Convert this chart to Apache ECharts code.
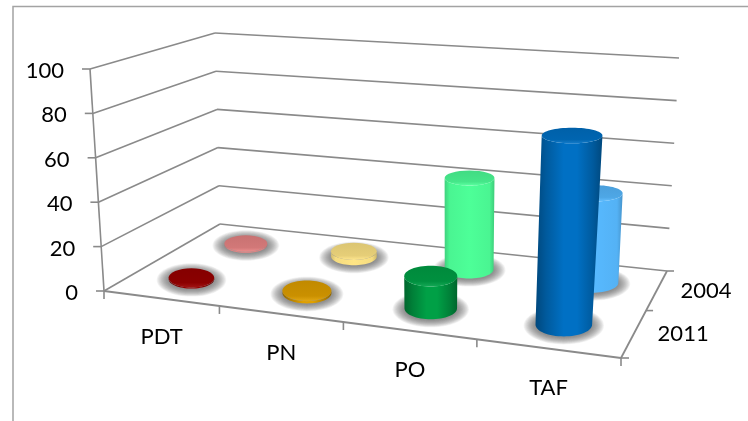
<!DOCTYPE html>
<html><head><meta charset="utf-8">
<style>html,body{margin:0;padding:0;background:#fff}#c{width:748px;height:421px}</style>
<script src="https://cdn.jsdelivr.net/npm/echarts@6/dist/echarts.min.js"></script>
</head><body><div id="c"></div>
<script>
const categories = ['PDT', 'PN', 'PO', 'TAF'];
const years = ['2011', '2004'];
const valueTicks = [0, 20, 40, 60, 80, 100];
const values2011 = [0.5, 1, 14, 80];
const values2004 = [0.5, 2.5, 43, 41];
const colors2011 = ['#9a0000', '#e0a000', '#00a046', '#0070c4'];
const colors2004 = ['#e98585', '#ffe585', '#4dff98', '#57b9ff'];

// projection box: screen corners of the floor and ceiling of the 3D box
const floorQ = [[104, 291], [621, 358], [667, 271], [220, 224]];
const ceilQ = [[90, 69], [640, 108], [679, 58], [215, 33]];
function homography(q) {
  const [x0, y0] = q[0], [x1, y1] = q[1], [x2, y2] = q[2], [x3, y3] = q[3];
  const dx1 = x1 - x2, dx2 = x3 - x2, sx = x0 - x1 + x2 - x3;
  const dy1 = y1 - y2, dy2 = y3 - y2, sy = y0 - y1 + y2 - y3;
  const den = dx1 * dy2 - dx2 * dy1;
  const g = (sx * dy2 - dx2 * sy) / den, h = (dx1 * sy - sx * dy1) / den;
  const a = x1 - x0 + g * x1, b = x3 - x0 + h * x3, d = y1 - y0 + g * y1, e = y3 - y0 + h * y3;
  return (u, v) => {
    const k = g * u + h * v + 1;
    return [(a * u + b * v + x0) / k, (d * u + e * v + y0) / k];
  };
}
const hFloor = homography(floorQ), hCeil = homography(ceilQ);
// u: along categories, v: depth, w: value; all 0..1
function proj(u, v, w) {
  const a = hFloor(u, v), b = hCeil(u, v);
  return [a[0] + (b[0] - a[0]) * w, a[1] + (b[1] - a[1]) * w];
}

const LINE = '#8a8a8a';
const FONT = '22px Lato';
function shade(hex, f) {
  const n = parseInt(hex.slice(1), 16);
  const c = [n >> 16, (n >> 8) & 255, n & 255].map(x => Math.round(f < 0 ? x * (1 + f) : x + (255 - x) * f));
  return 'rgb(' + c.join(',') + ')';
}
function normaliser(params, api) {
  const cs = params.coordSys;
  return {
    u: px => (px - cs.x) / cs.width,
    w: py => (cs.y + cs.height - py) / cs.height,
    band: api.size([1, 0])[0] / cs.width
  };
}
function seg(a, b, width) {
  return { type: 'line', shape: { x1: a[0], y1: a[1], x2: b[0], y2: b[1] }, style: { stroke: LINE, lineWidth: width || 1.6 } };
}
function label(text, x, y, align) {
  return { type: 'text', style: { text, x, y, align: align || 'center', verticalAlign: 'middle', fill: '#000', font: FONT } };
}

function renderBox(params, api) {
  const n = normaliser(params, api), kids = [];
  valueTicks.forEach(t => {
    const w = n.w(api.coord([0, t])[1]);
    const a = proj(0, 0, w), b = proj(0, 1, w), c = proj(1, 1, w);
    kids.push(seg(a, b), seg(b, c), seg(a, [a[0] - 8, a[1]]));
    kids.push(label(String(t), a[0] - 26, a[1] + 2, 'right'));
  });
  kids.push(seg(proj(0, 0, 0), proj(0, 0, 1)));
  kids.push(seg(proj(0, 0, 0), proj(1, 0, 0), 1.8), seg(proj(1, 0, 0), proj(1, 1, 0), 1.8));
  categories.forEach((c, i) => {
    const mid = n.u(api.coord([i, 0])[0]);
    const edge = mid + n.band / 2, p = proj(edge, 0, 0), m = proj(mid, 0, 0);
    kids.push(seg(p, [p[0], p[1] + 8]));
    kids.push(label(c, m[0] + 1, m[1] + 39));
  });
  const p0 = proj(0, 0, 0);
  kids.push(seg(p0, [p0[0], p0[1] + 8]));
  years.forEach((y, i) => {
    const mid = proj(1, (i + 0.5) / years.length, 0), edge = proj(1, (i + 1) / years.length, 0);
    kids.push(seg(edge, [edge[0] + 7, edge[1]]));
    kids.push(label(y, mid[0] + 49, mid[1] + 1));
  });
  const e0 = proj(1, 0, 0);
  kids.push(seg(e0, [e0[0] + 8, e0[1]]));
  return { type: 'group', children: kids };
}

function ellipseAt(u, v, w, du, dv) {
  const c = proj(u, v, w);
  const l = proj(u - du, v, w), r = proj(u + du, v, w);
  const f = proj(u, v - dv, w), b = proj(u, v + dv, w);
  return { cx: c[0], cy: c[1], rx: Math.abs(r[0] - l[0]) / 2, ry: Math.abs(f[1] - b[1]) / 2 };
}
function cylinder(depthIdx, palette) {
  return function (params, api) {
    const n = normaliser(params, api);
    const i = api.value(0), val = api.value(1);
    const pt = api.coord([i, val]);
    const u = n.u(pt[0]), w = n.w(pt[1]);
    const v = (depthIdx + 0.5) / years.length;
    const du = n.band * 0.205, dv = 0.13;
    const bot = ellipseAt(u, v, 0, du, dv), top = ellipseAt(u, v, w, du, dv);
    const col = palette[i];
    const pts = [];
    for (let k = 0; k <= 32; k++) {
      const t = Math.PI * k / 32;
      pts.push([bot.cx + bot.rx * Math.cos(t), bot.cy + bot.ry * Math.sin(t)]);
    }
    for (let k = 0; k <= 32; k++) {
      pts.push([top.cx - top.rx * Math.cos(Math.PI * k / 32), top.cy + top.ry * Math.sin(Math.PI * k / 32)]);
    }
    const soft = depthIdx === 1;
    const grad = {
      type: 'linear', x: 0, y: 0, x2: 1, y2: 0,
      colorStops: soft ? [
        { offset: 0, color: shade(col, -0.18) }, { offset: 0.1, color: shade(col, -0.04) },
        { offset: 0.5, color: col }, { offset: 0.9, color: shade(col, -0.04) },
        { offset: 1, color: shade(col, -0.2) }
      ] : [
        { offset: 0, color: shade(col, -0.36) }, { offset: 0.16, color: shade(col, -0.2) },
        { offset: 0.42, color: col }, { offset: 0.62, color: col },
        { offset: 0.86, color: shade(col, -0.2) }, { offset: 1, color: shade(col, -0.36) }
      ]
    };
    const topGrad = {
      type: 'linear', x: 0, y: 0, x2: 0, y2: 1,
      colorStops: [
        { offset: 0, color: shade(col, -0.14) }, { offset: 0.75, color: shade(col, -0.1) },
        { offset: 1, color: shade(col, 0.08) }
      ]
    };
    const halo = [];
    for (let s = 14; s >= 0; s--) {
      halo.push({ type: 'ellipse', shape: { cx: bot.cx, cy: bot.cy + 1, rx: bot.rx + s * 0.85, ry: bot.ry + s * 0.5 },
        style: { fill: 'rgba(90,90,90,0.065)' } });
    }
    return {
      type: 'group',
      children: halo.concat([
        { type: 'polygon', shape: { points: pts }, style: { fill: grad } },
        { type: 'ellipse', shape: { cx: top.cx, cy: top.cy, rx: top.rx, ry: top.ry }, style: { fill: topGrad } }
      ])
    };
  };
}

const chart = echarts.init(document.getElementById('c'), null, { renderer: 'canvas' });
chart.setOption({
  animation: false,
  backgroundColor: '#fff',
  graphic: [{ type: 'polyline', silent: true, z: 0, shape: { points: [[13, 421], [13, 6.5], [748, 6.5]] }, style: { stroke: '#a3a3a3', lineWidth: 1.5, fill: null } }],
  grid: { show: false, left: 13, top: 6, right: 0, bottom: 0 },
  xAxis: { type: 'category', data: categories, show: false },
  yAxis: { type: 'value', min: 0, max: 100, interval: 20, show: false },
  series: [
    { type: 'custom', name: 'box', z: 1, silent: true, data: [[0, 0]], encode: { x: 0, y: 1 }, renderItem: renderBox },
    { type: 'custom', name: years[1], z: 2, silent: true, encode: { x: 0, y: 1 },
      data: values2004.map((y, i) => [i, y]), renderItem: cylinder(1, colors2004) },
    { type: 'custom', name: years[0], z: 3, silent: true, encode: { x: 0, y: 1 },
      data: values2011.map((y, i) => [i, y]), renderItem: cylinder(0, colors2011) }
  ]
});
</script></body></html>
